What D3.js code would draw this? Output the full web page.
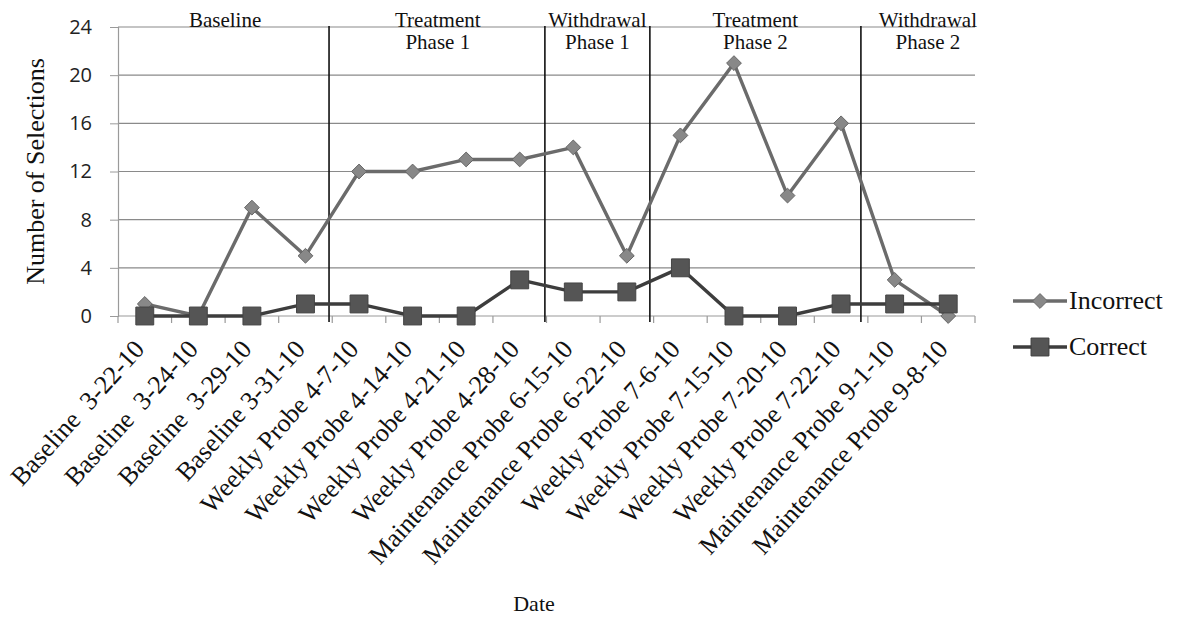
<!DOCTYPE html>
<html>
<head>
<meta charset="utf-8">
<script src="https://cdn.jsdelivr.net/npm/d3@7/dist/d3.min.js"></script>
<style>
  body { margin: 0; background: #fff; }
  svg { display: block; }
</style>
</head>
<body>
<svg id="chart" width="1179" height="618"></svg>
<script>
// Session dates (x categories)
const dates = [
  "Baseline  3-22-10", "Baseline  3-24-10", "Baseline  3-29-10", "Baseline 3-31-10",
  "Weekly Probe 4-7-10", "Weekly Probe 4-14-10", "Weekly Probe 4-21-10", "Weekly Probe 4-28-10",
  "Maintenance Probe 6-15-10", "Maintenance Probe 6-22-10", "Weekly Probe 7-6-10", "Weekly Probe 7-15-10",
  "Weekly Probe 7-20-10", "Weekly Probe 7-22-10", "Maintenance Probe 9-1-10", "Maintenance Probe 9-8-10"
];
// Number of selections per session
const incorrect = [1, 0, 9, 5, 12, 12, 13, 13, 14, 5, 15, 21, 10, 16, 3, 0];
const correct   = [0, 0, 0, 1, 1, 0, 0, 3, 2, 2, 4, 0, 0, 1, 1, 1];
const yTicks = [0, 4, 8, 12, 16, 20, 24];

// Phase change lines, in category-boundary units
const phaseLines = [3.94, 7.97, 9.93, 13.87];
// Phase labels: lines of text and centre position in category units
const phaseLabels = [
  { lines: ["Baseline"], at: 2.0 },
  { lines: ["Treatment", "Phase 1"], at: 5.97 },
  { lines: ["Withdrawal", "Phase 1"], at: 8.95 },
  { lines: ["Treatment", "Phase 2"], at: 11.9 },
  { lines: ["Withdrawal", "Phase 2"], at: 15.12 }
];

const svg = d3.select("#chart");
const plotL = 118, plotR = 975, plotT = 27, plotB = 316;

const x = d3.scalePoint().domain(dates).range([plotL, plotR]).padding(0.5);
const step = x.step();
const xb = k => plotL + k * step; // boundary position in category units
const y = d3.scaleLinear().domain([0, 24]).range([plotB, plotT]);

const serif = "'Liberation Serif', 'Times New Roman', serif";

// Horizontal gridlines
svg.append("g")
  .selectAll("line")
  .data(yTicks.filter(d => d > 0))
  .join("line")
  .attr("x1", plotL).attr("x2", plotR)
  .attr("y1", d => y(d)).attr("y2", d => y(d))
  .attr("stroke", "#8a8a8a").attr("stroke-width", 1.2);

// Y axis
const yAxis = svg.append("g")
  .attr("transform", `translate(${plotL},0)`)
  .call(d3.axisLeft(y).tickValues(yTicks).tickSize(8).tickPadding(18));
yAxis.select(".domain").attr("stroke", "#9a9a9a").attr("stroke-width", 1.2);
yAxis.selectAll(".tick line").attr("stroke", "#9a9a9a");
yAxis.selectAll("text")
  .attr("font-family", "'Open Sans', sans-serif")
  .attr("font-size", 20).attr("fill", "#222");

// X axis baseline and ticks at category boundaries
svg.append("line")
  .attr("x1", plotL).attr("x2", plotR)
  .attr("y1", plotB).attr("y2", plotB)
  .attr("stroke", "#9a9a9a").attr("stroke-width", 1.2);
svg.append("g")
  .selectAll("line")
  .data(d3.range(dates.length + 1))
  .join("line")
  .attr("x1", d => xb(d)).attr("x2", d => xb(d))
  .attr("y1", plotB).attr("y2", plotB + 7)
  .attr("stroke", "#9a9a9a").attr("stroke-width", 1.2);

// X tick labels, rotated
svg.append("g")
  .selectAll("text")
  .data(dates)
  .join("text")
  .attr("transform", d => `translate(${x(d) + 1},${plotB + 34}) rotate(-48)`)
  .attr("text-anchor", "end")
  .attr("font-family", serif)
  .attr("font-size", 26)
  .attr("fill", "#111")
  .style("white-space", "pre")
  .text(d => d);

// Phase change lines
svg.append("g")
  .selectAll("line")
  .data(phaseLines)
  .join("line")
  .attr("x1", d => xb(d)).attr("x2", d => xb(d))
  .attr("y1", plotT - 1).attr("y2", plotB + 6)
  .attr("stroke", "#111").attr("stroke-width", 1.6);

// Phase labels
const pl = svg.append("g").selectAll("text")
  .data(phaseLabels)
  .join("text")
  .attr("text-anchor", "middle")
  .attr("font-family", serif)
  .attr("font-size", 21)
  .attr("fill", "#111");
pl.each(function (d) {
  const t = d3.select(this);
  d.lines.forEach((ln, i) => {
    t.append("tspan").attr("x", xb(d.at)).attr("y", 27 + i * 22).text(ln);
  });
});

// Series lines
const line = d3.line().x((d, i) => x(dates[i])).y(d => y(d));
svg.append("path").datum(incorrect)
  .attr("d", line).attr("fill", "none")
  .attr("stroke", "#6b6b6b").attr("stroke-width", 3.4);
svg.append("path").datum(correct)
  .attr("d", line).attr("fill", "none")
  .attr("stroke", "#3d3d3d").attr("stroke-width", 3.4);

// Markers
const diamond = d3.symbol().type(d3.symbolDiamond2).size(140);
const square = d3.symbol().type(d3.symbolSquare).size(320);
svg.append("g").selectAll("path")
  .data(incorrect)
  .join("path")
  .attr("d", diamond)
  .attr("transform", (d, i) => `translate(${x(dates[i])},${y(d)})`)
  .attr("fill", "#888").attr("stroke", "#666").attr("stroke-width", 1);
svg.append("g").selectAll("path")
  .data(correct)
  .join("path")
  .attr("d", square)
  .attr("transform", (d, i) => `translate(${x(dates[i])},${y(d)})`)
  .attr("fill", "#555").attr("stroke", "#444").attr("stroke-width", 1);

// Axis titles
svg.append("text")
  .attr("transform", `translate(44,${(plotT + plotB) / 2}) rotate(-90)`)
  .attr("text-anchor", "middle")
  .attr("font-family", serif).attr("font-size", 26).attr("fill", "#111")
  .text("Number of Selections");
svg.append("text")
  .attr("x", 534).attr("y", 611)
  .attr("text-anchor", "middle")
  .attr("font-family", serif).attr("font-size", 22).attr("fill", "#111")
  .text("Date");

// Legend
const legend = [
  { name: "Incorrect", color: "#6b6b6b", sym: diamond, fill: "#888", ly: 301 },
  { name: "Correct", color: "#3d3d3d", sym: square, fill: "#555", ly: 347 }
];
const lg = svg.append("g").selectAll("g").data(legend).join("g")
  .attr("transform", d => `translate(1013,${d.ly})`);
lg.append("line").attr("x1", 0).attr("x2", 54)
  .attr("stroke", d => d.color).attr("stroke-width", 3.4);
lg.append("path").attr("d", d => d.sym())
  .attr("transform", "translate(27,0)")
  .attr("fill", d => d.fill).attr("stroke", d => d.color);
lg.append("text").attr("x", 56).attr("y", 8)
  .attr("font-family", serif).attr("font-size", 26).attr("fill", "#111")
  .text(d => d.name);
</script>
</body>
</html>
